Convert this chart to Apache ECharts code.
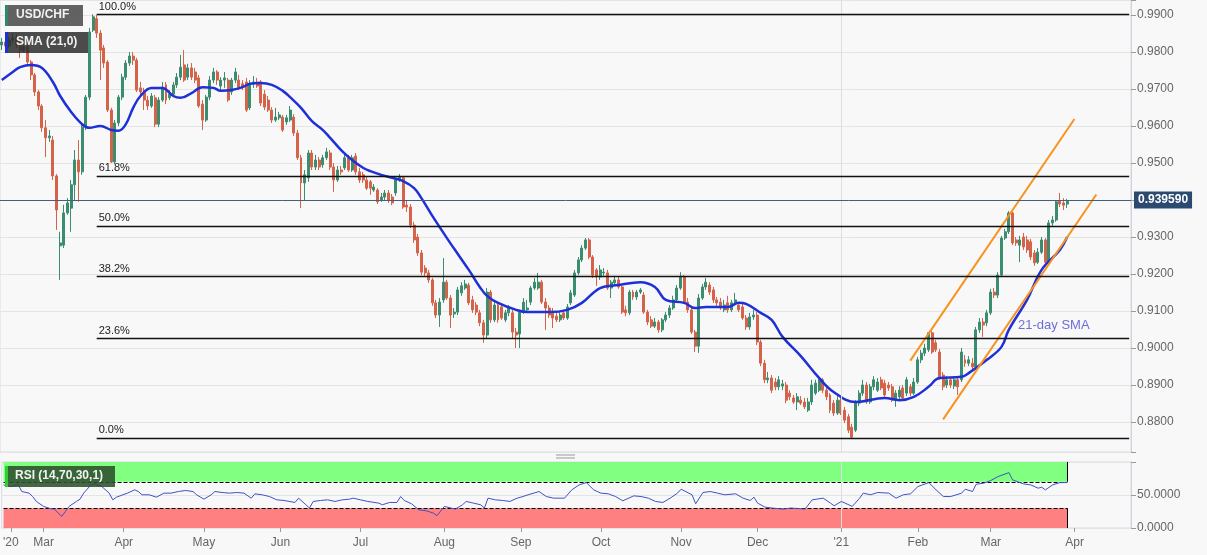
<!DOCTYPE html>
<html>
<head>
<meta charset="utf-8">
<title>USD/CHF</title>
<script src="https://cdn.jsdelivr.net/npm/echarts@6/dist/echarts.min.js"></script>
<style>
  html, body { margin: 0; padding: 0; background: #f8f8f8; }
  #chart { width: 1207px; height: 555px; }
</style>
</head>
<body>
<div id="chart"></div>
<script>
// daily bars, first bar = 14 Feb 2020 (weekdays only)
const firstDay = '2020-02-14';
const categoryCount = 310;

const tickDates = ['2020-02-18', '2020-03-02', '2020-04-01', '2020-05-01', '2020-06-01', '2020-07-01', '2020-08-03',
  '2020-09-01', '2020-10-01', '2020-11-02', '2020-12-01', '2021-01-01', '2021-02-01', '2021-03-01', '2021-04-01'];
const tickLabels = ["'20", 'Mar', 'Apr', 'May', 'Jun', 'Jul', 'Aug', 'Sep', 'Oct', 'Nov', 'Dec', "'21", 'Feb', 'Mar', 'Apr'];

const opens = [
  0.9819, 0.9827, 0.9816, 0.9832, 0.9838, 0.9819, 0.9805, 0.9814, 0.9773, 0.9738,
  0.9692, 0.9654, 0.9595, 0.9568, 0.9562, 0.9465, 0.9276, 0.9278, 0.9365, 0.9378,
  0.9441, 0.9508, 0.9476, 0.9597, 0.9678, 0.9859, 0.9890, 0.9851, 0.9811, 0.9773,
  0.9643, 0.9503, 0.9608, 0.9678, 0.9732, 0.9770, 0.9789, 0.9778, 0.9703, 0.9692,
  0.9670, 0.9654, 0.9676, 0.9605, 0.9670, 0.9711, 0.9676, 0.9686, 0.9711, 0.9732,
  0.9765, 0.9732, 0.9757, 0.9746, 0.9730, 0.9659, 0.9616, 0.9678, 0.9724, 0.9746,
  0.9708, 0.9724, 0.9724, 0.9692, 0.9724, 0.9724, 0.9714, 0.9719, 0.9649, 0.9714,
  0.9719, 0.9719, 0.9686, 0.9670, 0.9643, 0.9616, 0.9622, 0.9624, 0.9611, 0.9616,
  0.9624, 0.9581, 0.9514, 0.9446, 0.9460, 0.9527, 0.9489, 0.9508, 0.9495, 0.9514,
  0.9527, 0.9489, 0.9454, 0.9481, 0.9487, 0.9514, 0.9481, 0.9519, 0.9476, 0.9468,
  0.9454, 0.9449, 0.9427, 0.9427, 0.9400, 0.9408, 0.9419, 0.9408, 0.9419, 0.9454,
  0.9460, 0.9386, 0.9381, 0.9332, 0.9300, 0.9257, 0.9216, 0.9203, 0.9184, 0.9122,
  0.9089, 0.9130, 0.9178, 0.9135, 0.9092, 0.9097, 0.9149, 0.9162, 0.9170, 0.9130,
  0.9116, 0.9095, 0.9068, 0.9035, 0.9151, 0.9076, 0.9116, 0.9111, 0.9076, 0.9095,
  0.9095, 0.9043, 0.9038, 0.9097, 0.9103, 0.9124, 0.9162, 0.9162, 0.9178, 0.9124,
  0.9108, 0.9095, 0.9086, 0.9076, 0.9095, 0.9081, 0.9122, 0.9143, 0.9203, 0.9238,
  0.9270, 0.9292, 0.9246, 0.9211, 0.9192, 0.9203, 0.9203, 0.9162, 0.9176, 0.9184,
  0.9165, 0.9103, 0.9095, 0.9151, 0.9138, 0.9151, 0.9143, 0.9097, 0.9076, 0.9059,
  0.9070, 0.9049, 0.9076, 0.9089, 0.9108, 0.9130, 0.9162, 0.9192, 0.9124, 0.9103,
  0.9043, 0.9005, 0.9135, 0.9165, 0.9170, 0.9157, 0.9130, 0.9124, 0.9103, 0.9122,
  0.9103, 0.9122, 0.9116, 0.9111, 0.9081, 0.9057, 0.9084, 0.9089, 0.9016, 0.8959,
  0.8914, 0.8919, 0.8908, 0.8895, 0.8897, 0.8900, 0.8878, 0.8865, 0.8854, 0.8859,
  0.8854, 0.8832, 0.8854, 0.8878, 0.8886, 0.8914, 0.8886, 0.8873, 0.8851, 0.8824,
  0.8859, 0.8832, 0.8814, 0.8786, 0.8778, 0.8851, 0.8878, 0.8900, 0.8854, 0.8895,
  0.8886, 0.8914, 0.8905, 0.8900, 0.8895, 0.8859, 0.8868, 0.8892, 0.8878, 0.8895,
  0.8878, 0.8908, 0.8968, 0.8986, 0.8995, 0.9041, 0.9014, 0.8989, 0.8927, 0.8900,
  0.8914, 0.8897, 0.8914, 0.8914, 0.8968, 0.8959, 0.8959, 0.8949, 0.9049, 0.9070,
  0.9068, 0.9095, 0.9151, 0.9143, 0.9197, 0.9297, 0.9314, 0.9365, 0.9292, 0.9278,
  0.9300, 0.9292, 0.9287, 0.9257, 0.9232, 0.9259, 0.9292, 0.9232, 0.9338, 0.9346,
  0.9397, 0.9392, 0.9389
];
const closes = [
  0.9827, 0.9816, 0.9832, 0.9838, 0.9819, 0.9805, 0.9814, 0.9773, 0.9738, 0.9692,
  0.9654, 0.9595, 0.9568, 0.9573, 0.9465, 0.9373, 0.9284, 0.9365, 0.9392, 0.9441,
  0.9508, 0.9476, 0.9597, 0.9678, 0.9854, 0.9895, 0.9851, 0.9805, 0.9770, 0.9643,
  0.9503, 0.9608, 0.9678, 0.9732, 0.9770, 0.9789, 0.9778, 0.9697, 0.9692, 0.9670,
  0.9654, 0.9681, 0.9605, 0.9670, 0.9705, 0.9670, 0.9686, 0.9711, 0.9732, 0.9759,
  0.9724, 0.9757, 0.9732, 0.9724, 0.9654, 0.9616, 0.9678, 0.9724, 0.9746, 0.9724,
  0.9724, 0.9730, 0.9670, 0.9724, 0.9746, 0.9705, 0.9705, 0.9643, 0.9714, 0.9719,
  0.9708, 0.9662, 0.9651, 0.9643, 0.9616, 0.9624, 0.9630, 0.9589, 0.9622, 0.9643,
  0.9581, 0.9514, 0.9446, 0.9468, 0.9527, 0.9489, 0.9508, 0.9489, 0.9514, 0.9530,
  0.9489, 0.9454, 0.9481, 0.9476, 0.9514, 0.9481, 0.9514, 0.9476, 0.9454, 0.9454,
  0.9432, 0.9432, 0.9435, 0.9395, 0.9408, 0.9419, 0.9400, 0.9392, 0.9454, 0.9462,
  0.9381, 0.9381, 0.9332, 0.9292, 0.9257, 0.9205, 0.9203, 0.9184, 0.9122, 0.9089,
  0.9124, 0.9178, 0.9135, 0.9089, 0.9097, 0.9157, 0.9168, 0.9173, 0.9122, 0.9103,
  0.9097, 0.9068, 0.9035, 0.9151, 0.9076, 0.9116, 0.9076, 0.9081, 0.9095, 0.9108,
  0.9043, 0.9035, 0.9097, 0.9124, 0.9108, 0.9162, 0.9178, 0.9178, 0.9124, 0.9108,
  0.9089, 0.9081, 0.9076, 0.9089, 0.9081, 0.9111, 0.9149, 0.9203, 0.9238, 0.9270,
  0.9292, 0.9246, 0.9197, 0.9192, 0.9211, 0.9205, 0.9162, 0.9178, 0.9184, 0.9165,
  0.9097, 0.9095, 0.9151, 0.9138, 0.9151, 0.9157, 0.9097, 0.9070, 0.9059, 0.9070,
  0.9049, 0.9076, 0.9089, 0.9108, 0.9130, 0.9162, 0.9192, 0.9124, 0.9103, 0.9043,
  0.9005, 0.9135, 0.9165, 0.9178, 0.9151, 0.9130, 0.9122, 0.9108, 0.9116, 0.9103,
  0.9122, 0.9130, 0.9103, 0.9081, 0.9057, 0.9084, 0.9089, 0.9016, 0.8959, 0.8914,
  0.8919, 0.8886, 0.8895, 0.8914, 0.8903, 0.8859, 0.8868, 0.8854, 0.8868, 0.8851,
  0.8841, 0.8854, 0.8900, 0.8905, 0.8914, 0.8886, 0.8868, 0.8832, 0.8824, 0.8859,
  0.8824, 0.8805, 0.8778, 0.8759, 0.8851, 0.8878, 0.8900, 0.8854, 0.8895, 0.8914,
  0.8908, 0.8892, 0.8873, 0.8892, 0.8859, 0.8878, 0.8886, 0.8865, 0.8914, 0.8878,
  0.8908, 0.8968, 0.8986, 0.9000, 0.9041, 0.8989, 0.8995, 0.8922, 0.8895, 0.8914,
  0.8900, 0.8914, 0.8895, 0.8989, 0.8959, 0.8968, 0.8949, 0.9049, 0.9070, 0.9062,
  0.9095, 0.9151, 0.9143, 0.9197, 0.9297, 0.9314, 0.9365, 0.9284, 0.9284, 0.9292,
  0.9273, 0.9265, 0.9246, 0.9230, 0.9259, 0.9292, 0.9232, 0.9338, 0.9346, 0.9395,
  0.9389, 0.9386, 0.93959
];
const lows = [
  0.9805, 0.9805, 0.9811, 0.9822, 0.9811, 0.9784, 0.9800, 0.9765, 0.9724, 0.9681,
  0.9643, 0.9584, 0.9516, 0.9557, 0.9454, 0.9319, 0.9184, 0.9270, 0.9360, 0.9314,
  0.9400, 0.9395, 0.9468, 0.9589, 0.9670, 0.9854, 0.9838, 0.9724, 0.9757, 0.9638,
  0.9500, 0.9497, 0.9600, 0.9670, 0.9724, 0.9762, 0.9765, 0.9692, 0.9684, 0.9643,
  0.9643, 0.9649, 0.9597, 0.9597, 0.9665, 0.9659, 0.9670, 0.9678, 0.9703, 0.9724,
  0.9719, 0.9724, 0.9724, 0.9716, 0.9649, 0.9589, 0.9611, 0.9670, 0.9716, 0.9711,
  0.9697, 0.9703, 0.9665, 0.9684, 0.9716, 0.9697, 0.9697, 0.9638, 0.9643, 0.9703,
  0.9703, 0.9654, 0.9643, 0.9638, 0.9608, 0.9611, 0.9616, 0.9584, 0.9603, 0.9611,
  0.9573, 0.9508, 0.9378, 0.9400, 0.9449, 0.9481, 0.9481, 0.9481, 0.9487, 0.9508,
  0.9481, 0.9422, 0.9449, 0.9468, 0.9481, 0.9476, 0.9476, 0.9468, 0.9446, 0.9446,
  0.9427, 0.9414, 0.9422, 0.9389, 0.9395, 0.9400, 0.9392, 0.9386, 0.9411, 0.9449,
  0.9376, 0.9368, 0.9324, 0.9284, 0.9249, 0.9197, 0.9195, 0.9176, 0.9114, 0.9081,
  0.9057, 0.9122, 0.9130, 0.9054, 0.9081, 0.9089, 0.9141, 0.9157, 0.9116, 0.9095,
  0.9089, 0.9059, 0.9014, 0.9027, 0.9068, 0.9070, 0.9068, 0.9076, 0.9070, 0.9086,
  0.9027, 0.9000, 0.9000, 0.9092, 0.9097, 0.9116, 0.9157, 0.9157, 0.9119, 0.9049,
  0.9081, 0.9054, 0.9070, 0.9070, 0.9076, 0.9076, 0.9116, 0.9138, 0.9197, 0.9232,
  0.9265, 0.9240, 0.9189, 0.9168, 0.9184, 0.9195, 0.9157, 0.9135, 0.9170, 0.9160,
  0.9092, 0.9086, 0.9089, 0.9130, 0.9130, 0.9146, 0.9092, 0.9062, 0.9054, 0.9054,
  0.9041, 0.9043, 0.9070, 0.9081, 0.9103, 0.9124, 0.9157, 0.9119, 0.9095, 0.9038,
  0.8989, 0.8987, 0.9130, 0.9157, 0.9143, 0.9122, 0.9114, 0.9103, 0.9097, 0.9095,
  0.9097, 0.9116, 0.9097, 0.9076, 0.9049, 0.9049, 0.9076, 0.9008, 0.8951, 0.8905,
  0.8905, 0.8878, 0.8886, 0.8886, 0.8886, 0.8851, 0.8859, 0.8849, 0.8832, 0.8846,
  0.8835, 0.8827, 0.8846, 0.8873, 0.8881, 0.8878, 0.8859, 0.8824, 0.8816, 0.8819,
  0.8819, 0.8797, 0.8770, 0.8757, 0.8773, 0.8843, 0.8870, 0.8849, 0.8849, 0.8886,
  0.8881, 0.8886, 0.8868, 0.8884, 0.8854, 0.8841, 0.8859, 0.8859, 0.8870, 0.8870,
  0.8873, 0.8903, 0.8959, 0.8978, 0.8989, 0.8984, 0.8989, 0.8914, 0.8886, 0.8892,
  0.8892, 0.8889, 0.8873, 0.8908, 0.8949, 0.8951, 0.8935, 0.8943, 0.9041, 0.9030,
  0.9059, 0.9089, 0.9135, 0.9135, 0.9192, 0.9292, 0.9308, 0.9278, 0.9276, 0.9232,
  0.9265, 0.9257, 0.9238, 0.9222, 0.9227, 0.9254, 0.9224, 0.9227, 0.9330, 0.9341,
  0.9381, 0.9373, 0.9378
];
const highs = [
  0.9838, 0.9832, 0.9841, 0.9851, 0.9849, 0.9827, 0.9822, 0.9819, 0.9778, 0.9743,
  0.9697, 0.9659, 0.9616, 0.9589, 0.9573, 0.9470, 0.9314, 0.9387, 0.9405, 0.9454,
  0.9535, 0.9562, 0.9603, 0.9684, 0.9865, 0.9902, 0.9900, 0.9859, 0.9819, 0.9778,
  0.9649, 0.9616, 0.9684, 0.9741, 0.9778, 0.9800, 0.9800, 0.9784, 0.9719, 0.9703,
  0.9681, 0.9689, 0.9684, 0.9678, 0.9719, 0.9719, 0.9697, 0.9719, 0.9743, 0.9792,
  0.9805, 0.9768, 0.9770, 0.9757, 0.9738, 0.9670, 0.9684, 0.9735, 0.9757, 0.9751,
  0.9732, 0.9746, 0.9730, 0.9730, 0.9757, 0.9738, 0.9724, 0.9730, 0.9724, 0.9735,
  0.9730, 0.9724, 0.9697, 0.9681, 0.9651, 0.9649, 0.9638, 0.9630, 0.9630, 0.9654,
  0.9632, 0.9589, 0.9522, 0.9481, 0.9535, 0.9535, 0.9522, 0.9516, 0.9522, 0.9541,
  0.9535, 0.9500, 0.9492, 0.9492, 0.9522, 0.9522, 0.9522, 0.9527, 0.9487, 0.9476,
  0.9462, 0.9454, 0.9443, 0.9432, 0.9419, 0.9427, 0.9427, 0.9416, 0.9460, 0.9470,
  0.9465, 0.9400, 0.9389, 0.9341, 0.9308, 0.9265, 0.9224, 0.9211, 0.9189, 0.9130,
  0.9135, 0.9243, 0.9184, 0.9143, 0.9108, 0.9165, 0.9178, 0.9184, 0.9176, 0.9141,
  0.9124, 0.9103, 0.9076, 0.9162, 0.9157, 0.9130, 0.9124, 0.9116, 0.9103, 0.9116,
  0.9103, 0.9054, 0.9103, 0.9135, 0.9130, 0.9168, 0.9189, 0.9203, 0.9184, 0.9135,
  0.9116, 0.9108, 0.9097, 0.9097, 0.9103, 0.9119, 0.9157, 0.9211, 0.9246, 0.9278,
  0.9297, 0.9297, 0.9251, 0.9216, 0.9224, 0.9216, 0.9211, 0.9184, 0.9195, 0.9192,
  0.9170, 0.9114, 0.9157, 0.9157, 0.9157, 0.9162, 0.9151, 0.9103, 0.9086, 0.9081,
  0.9076, 0.9081, 0.9097, 0.9116, 0.9141, 0.9170, 0.9205, 0.9197, 0.9135, 0.9111,
  0.9049, 0.9146, 0.9173, 0.9189, 0.9178, 0.9165, 0.9138, 0.9135, 0.9130, 0.9141,
  0.9130, 0.9149, 0.9124, 0.9119, 0.9089, 0.9095, 0.9103, 0.9097, 0.9022, 0.8968,
  0.8935, 0.8927, 0.8919, 0.8924, 0.8914, 0.8908, 0.8886, 0.8873, 0.8878, 0.8870,
  0.8865, 0.8865, 0.8914, 0.8914, 0.8924, 0.8919, 0.8895, 0.8878, 0.8859, 0.8870,
  0.8865, 0.8841, 0.8822, 0.8795, 0.8859, 0.8886, 0.8914, 0.8908, 0.8903, 0.8924,
  0.8919, 0.8922, 0.8914, 0.8908, 0.8903, 0.8886, 0.8897, 0.8900, 0.8922, 0.8903,
  0.8919, 0.8976, 0.8995, 0.9011, 0.9043, 0.9046, 0.9022, 0.8997, 0.8935, 0.8924,
  0.8922, 0.8924, 0.8922, 0.9000, 0.8981, 0.8978, 0.8973, 0.9057, 0.9081, 0.9081,
  0.9103, 0.9160, 0.9162, 0.9205, 0.9303, 0.9322, 0.9370, 0.9368, 0.9300, 0.9303,
  0.9311, 0.9303, 0.9295, 0.9265, 0.9270, 0.9300, 0.9297, 0.9346, 0.9357, 0.9400,
  0.9419, 0.9405, 0.9403
];

// 21-day SMA: [bar index, value]
const smaPoints = [
  [0, 0.9724], [3, 0.9746], [5, 0.9759], [8, 0.9765], [11, 0.9757], [14, 0.9719], [16, 0.9681],
  [19, 0.9638], [22, 0.9605], [24, 0.9595], [27, 0.9600], [30, 0.9589], [32, 0.9587], [34, 0.9605],
  [36, 0.9649], [38, 0.9681], [41, 0.9703], [44, 0.9703], [47, 0.9681], [49, 0.9676], [52, 0.9689],
  [55, 0.9705], [58, 0.9703], [60, 0.9695], [63, 0.9697], [66, 0.9705], [68, 0.9714], [71, 0.9716],
  [74, 0.9711], [77, 0.9695], [79, 0.9678], [82, 0.9649], [85, 0.9613], [88, 0.9589], [90, 0.9568],
  [93, 0.9535], [96, 0.9508], [99, 0.9487], [101, 0.9478], [104, 0.9468], [107, 0.9460], [110, 0.9451],
  [113, 0.9432], [115, 0.9405], [118, 0.9357], [122, 0.9297], [124, 0.9268], [128, 0.9211], [131, 0.9165],
  [133, 0.9141], [136, 0.9122], [141, 0.9103], [144, 0.9097], [150, 0.9097], [155, 0.9103], [159, 0.9122],
  [164, 0.9162], [169, 0.9170], [175, 0.9178], [179, 0.9165], [182, 0.9130], [187, 0.9122], [190, 0.9108],
  [193, 0.9111], [199, 0.9111], [202, 0.9122], [204, 0.9119], [208, 0.9095], [211, 0.9076], [214, 0.9030],
  [219, 0.8978], [224, 0.8919], [228, 0.8881], [234, 0.8854], [242, 0.8865], [246, 0.8859], [250, 0.8868],
  [254, 0.8895], [257, 0.8919], [263, 0.8922], [265, 0.8932], [270, 0.8968], [274, 0.9003], [276, 0.9049],
  [281, 0.9130], [285, 0.9211], [290, 0.9265], [292, 0.9300]
];

// RSI(14): [bar index, value]
const rsiPoints = [
  [0, 65.3], [2, 62.8], [4, 66.3], [5, 55.3], [7, 52.8], [8, 47.7], [9, 40.2], [11, 32.7], [13, 29.1],
  [14, 28.6], [15, 22.6], [16, 17.6], [17, 25.1], [18, 32.7], [20, 40.2], [21, 43.7], [22, 52.8], [24, 65.3],
  [25, 66.8], [27, 62.8], [29, 52.8], [30, 42.7], [31, 46.7], [34, 52.8], [36, 57.8], [37, 55.3], [38, 50.3],
  [40, 50.3], [42, 46.7], [44, 52.8], [46, 52.8], [48, 55.3], [50, 56.8], [52, 55.3], [53, 50.3], [55, 43.7],
  [57, 50.3], [58, 55.3], [60, 53.8], [62, 52.8], [64, 53.8], [66, 52.8], [68, 45.2], [69, 51.8], [71, 50.3],
  [73, 47.7], [75, 42.7], [77, 41.7], [80, 38.7], [81, 45.2], [83, 35.2], [84, 30.2], [85, 40.2], [87, 41.7],
  [89, 42.7], [91, 40.2], [93, 42.7], [95, 43.7], [96, 45.2], [98, 42.7], [100, 40.2], [103, 37.7], [104, 35.2],
  [106, 38.7], [108, 38.7], [109, 47.7], [110, 41.7], [112, 36.7], [114, 27.6], [116, 26.1], [118, 22.6],
  [119, 18.6], [121, 32.7], [124, 28.6], [126, 35.2], [127, 40.2], [129, 37.7], [131, 35.2], [132, 30.2],
  [133, 45.2], [135, 42.7], [137, 41.7], [139, 40.2], [141, 45.2], [142, 46.7], [144, 50.3], [147, 55.3],
  [149, 47.7], [151, 45.2], [153, 45.2], [154, 45.2], [156, 57.8], [158, 65.3], [160, 68.8], [162, 57.8],
  [163, 55.3], [164, 52.8], [166, 51.8], [168, 47.7], [170, 41.2], [173, 48.7], [175, 47.7], [177, 45.2],
  [179, 40.2], [181, 38.7], [183, 45.2], [185, 52.8], [186, 58.8], [189, 50.3], [190, 36.7], [192, 53.8],
  [194, 55.3], [196, 52.8], [198, 50.3], [201, 51.8], [203, 45.2], [205, 41.7], [206, 46.7], [207, 37.7],
  [209, 31.7], [211, 30.2], [214, 28.6], [216, 30.2], [218, 29.6], [220, 28.6], [222, 42.7], [225, 45.2],
  [227, 37.7], [228, 33.7], [230, 40.2], [233, 32.7], [235, 45.2], [236, 52.8], [238, 50.3], [240, 53.8],
  [243, 52.8], [245, 45.2], [247, 50.3], [249, 51.8], [251, 62.8], [254, 68.8], [256, 57.8], [258, 47.7],
  [260, 47.7], [263, 52.8], [264, 58.8], [266, 55.3], [267, 66.3], [269, 67.8], [271, 71.9], [273, 77.9],
  [276, 83.9], [277, 72.9], [280, 66.8], [282, 65.3], [284, 60.3], [285, 61.8], [286, 57.8], [288, 65.3],
  [290, 68.8], [292, 68.8]
];

// Fibonacci retracement of the 0.9902 -> 0.8757 move
const fibLevels = [0.9902, 0.9465, 0.9330, 0.9194, 0.9027, 0.8757];
const fibLabels = ['100.0%', '61.8%', '50.0%', '38.2%', '23.6%', '0.0%'];
const fibStartBar = 26;

// rising channel
const channelUpper = [[249, 0.8966], [294, 0.9619]];
const channelLower = [[258, 0.8807], [300, 0.9415]];

const lastPrice = 0.93959;
const yearBar = '2021-01-01';
const smaTextAt = [278, 0.9062];

// ---- build category axis (weekdays) ----
const categories = [];
{
  let d = new Date(firstDay + 'T12:00:00Z');
  while (categories.length < categoryCount) {
    const wd = d.getUTCDay();
    if (wd !== 0 && wd !== 6) categories.push(d.toISOString().slice(0, 10));
    d = new Date(d.getTime() + 86400000);
  }
}
const tickMap = {};
tickDates.forEach((dt, i) => { tickMap[categories.indexOf(dt)] = tickLabels[i]; });
const lastBar = closes.length - 1;
const lastCat = categories.length - 1;
const yearIdx = categories.indexOf(yearBar);

const candleData = opens.map((o, i) => [o, closes[i], lows[i], highs[i]]);

const fibLines = fibLevels.map((lv, i) => [
  {
    coord: [fibStartBar, lv],
    label: { show: true, position: 'insideStartTop', formatter: fibLabels[i], color: '#222', fontSize: 11, distance: 2 }
  },
  { coord: [lastCat, lv] }
]);

const chart = echarts.init(document.getElementById('chart'));
const option = {
  animation: false,
  backgroundColor: '#f8f8f8',
  textStyle: { fontFamily: 'Liberation Sans, Arial, sans-serif' },
  grid: [
    { left: -2, top: 0, width: 1133, height: 452, show: true, borderColor: '#d7dbe2', borderWidth: 1 },
    { left: -2, top: 462, width: 1133, height: 66, show: true, borderColor: '#d7dbe2', borderWidth: 1 }
  ],
  xAxis: [
    {
      type: 'category', gridIndex: 0, data: categories,
      axisLine: { show: false }, axisTick: { show: false }, axisLabel: { show: false }, splitLine: { show: false }
    },
    {
      type: 'category', gridIndex: 1, data: categories,
      axisLine: { show: false },
      axisTick: { show: true, alignWithLabel: true, length: 4, interval: (i) => tickMap[i] !== undefined, lineStyle: { color: '#999' } },
      axisLabel: {
        interval: (i) => tickMap[i] !== undefined,
        formatter: (v, i) => tickMap[i] || '',
        color: '#666', fontSize: 12, margin: 9
      },
      splitLine: { show: false }
    }
  ],
  yAxis: [
    {
      type: 'value', gridIndex: 0, position: 'right',
      min: 0.87189, max: 0.99405, splitNumber: 12,
      axisLine: { show: true, lineStyle: { color: '#cfd4dc' } },
      axisTick: { show: true, length: 5, lineStyle: { color: '#999' } },
      axisLabel: {
        color: '#666', fontSize: 12, margin: 6,
        formatter: (v) => {
          const r = Math.round(v * 100) / 100;
          if (Math.abs(v - r) > 1e-6 || Math.abs(r - 0.94) < 1e-6) return '';
          return r.toFixed(4);
        }
      },
      splitLine: { show: true, lineStyle: { color: '#e4e4e4' } }
    },
    {
      type: 'value', gridIndex: 1, position: 'right', min: 0, max: 100, interval: 50,
      axisLine: { show: true, lineStyle: { color: '#cfd4dc' } },
      axisTick: { show: true, length: 5, lineStyle: { color: '#999' } },
      axisLabel: { color: '#666', fontSize: 12, margin: 6, formatter: (v) => (v >= 100 ? '' : v.toFixed(4)) },
      splitLine: { show: true, lineStyle: { color: '#e4e4e4' } }
    }
  ],
  series: [
    {
      name: 'USD/CHF', type: 'candlestick', xAxisIndex: 0, yAxisIndex: 0,
      data: candleData, barWidth: '68%',
      itemStyle: { color: '#3a8d6e', color0: '#d4634a', borderColor: '#3a8d6e', borderColor0: '#d4634a', borderWidth: 1 },
      markLine: {
        silent: true, symbol: ['none', 'none'], animation: false,
        data: [
          { xAxis: yearIdx, lineStyle: { color: '#dedede', width: 1, type: 'solid' }, label: { show: false } },
          ...fibLines.map((pair) => {
            pair[0].lineStyle = { color: '#111', width: 1.3, type: 'solid' };
            return pair;
          }),
          {
            yAxis: lastPrice,
            lineStyle: { color: '#40607f', width: 1, type: 'solid' },
            label: {
              show: true, position: 'end', distance: 3, formatter: lastPrice.toFixed(6),
              color: '#fff', fontWeight: 'bold', fontSize: 12,
              backgroundColor: '#2c4a6f', padding: [3, 4, 2, 4]
            }
          }
        ]
      }
    },
    {
      name: 'SMA (21,0)', type: 'line', xAxisIndex: 0, yAxisIndex: 0,
      data: smaPoints, smooth: 0.4, symbol: 'none',
      lineStyle: { color: '#1e30d8', width: 2.5 },
      markPoint: {
        silent: true, symbol: 'circle', symbolSize: 0,
        data: [{ coord: smaTextAt }],
        label: { show: true, position: 'right', distance: 2, formatter: '21-day SMA', color: '#6e6ed8', fontSize: 13 }
      }
    },
    {
      name: 'channel top', type: 'line', xAxisIndex: 0, yAxisIndex: 0,
      data: channelUpper, symbol: 'none', lineStyle: { color: '#f7931e', width: 2 }
    },
    {
      name: 'channel bottom', type: 'line', xAxisIndex: 0, yAxisIndex: 0,
      data: channelLower, symbol: 'none', lineStyle: { color: '#f7931e', width: 2 }
    },
    {
      name: 'RSI', type: 'line', xAxisIndex: 1, yAxisIndex: 1,
      data: rsiPoints, symbol: 'none', z: 5,
      lineStyle: { color: '#3f52c8', width: 1 },
      markArea: {
        silent: true,
        data: [
          [{ xAxis: 0, yAxis: 70, itemStyle: { color: '#80ff80' } }, { xAxis: lastBar, yAxis: 100 }],
          [{ xAxis: 0, yAxis: 0, itemStyle: { color: '#ff8080' } }, { xAxis: lastBar, yAxis: 30 }]
        ]
      },
      markLine: {
        silent: true, symbol: ['none', 'none'], label: { show: false },
        data: [
          [{ coord: [0, 70], lineStyle: { color: '#000', type: 'dashed', width: 1 } }, { coord: [lastBar, 70] }],
          [{ coord: [0, 30], lineStyle: { color: '#000', type: 'dashed', width: 1 } }, { coord: [lastBar, 30] }],
          [{ coord: [lastBar, 70], lineStyle: { color: '#000', type: 'solid', width: 1 } }, { coord: [lastBar, 100] }],
          [{ coord: [lastBar, 0], lineStyle: { color: '#000', type: 'solid', width: 1 } }, { coord: [lastBar, 30] }],
          [{ xAxis: yearIdx, lineStyle: { color: '#dedede', type: 'solid', width: 1 } }]
        ].map((d) => (Array.isArray(d) && d.length === 1 ? d[0] : d))
      }
    }
  ],
  graphic: [
    { type: 'rect', left: 5, top: 5, shape: { width: 78, height: 21 }, style: { fill: 'rgba(85,85,85,0.92)' }, z: 100 },
    { type: 'rect', left: 5, top: 5, shape: { width: 3, height: 21 }, style: { fill: '#2f8a63' }, z: 101 },
    { type: 'text', left: 16, top: 9, style: { text: 'USD/CHF', fill: '#f2f2f2', font: 'bold 12px Liberation Sans, Arial' }, z: 101 },
    { type: 'rect', left: 5, top: 32, shape: { width: 83, height: 21 }, style: { fill: 'rgba(45,45,45,0.85)' }, z: 100 },
    { type: 'rect', left: 5, top: 32, shape: { width: 3, height: 21 }, style: { fill: '#1e30d8' }, z: 101 },
    { type: 'text', left: 16, top: 36, style: { text: 'SMA (21,0)', fill: '#f2f2f2', font: 'bold 12px Liberation Sans, Arial' }, z: 101 },
    { type: 'rect', left: 5, top: 466, shape: { width: 110, height: 21 }, style: { fill: 'rgba(45,80,45,0.88)' }, z: 100 },
    { type: 'rect', left: 5, top: 466, shape: { width: 3, height: 21 }, style: { fill: '#2fcf2f' }, z: 101 },
    { type: 'text', left: 15, top: 470, style: { text: 'RSI (14,70,30,1)', fill: '#f2f2f2', font: 'bold 12px Liberation Sans, Arial' }, z: 101 },
    { type: 'line', shape: { x1: 556, y1: 455, x2: 575, y2: 455 }, style: { stroke: '#9a9a9a', lineWidth: 1 } },
    { type: 'line', shape: { x1: 556, y1: 458, x2: 575, y2: 458 }, style: { stroke: '#9a9a9a', lineWidth: 1 } }
  ]
};
chart.setOption(option);
</script>
</body>
</html>
